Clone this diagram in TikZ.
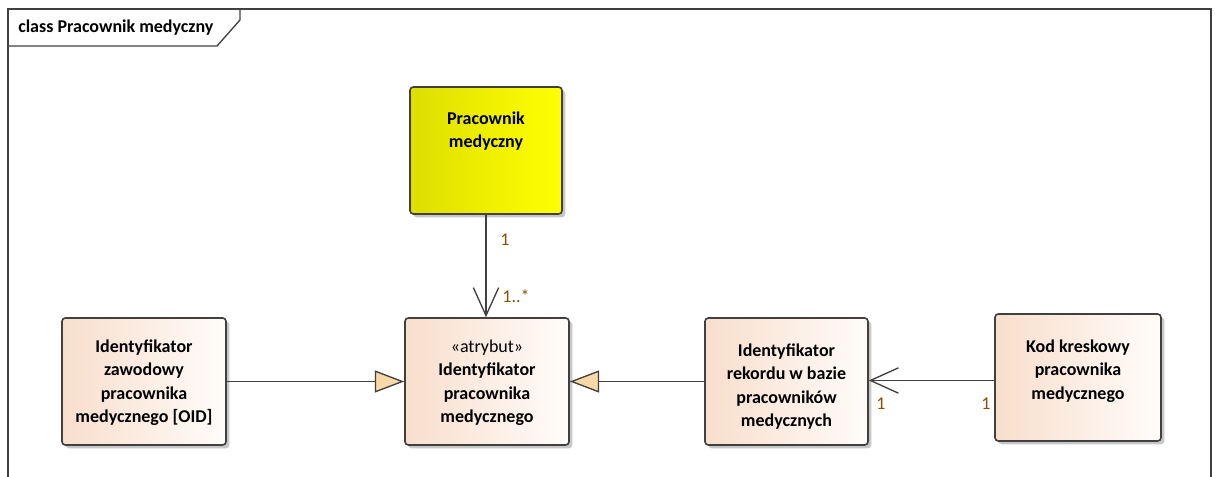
\documentclass[tikz,border=0pt]{standalone}
\usepackage{fontspec}
\setmainfont{Carlito}
\usetikzlibrary{arrows.meta,shadows}
\definecolor{framecol}{RGB}{64,64,64}
\definecolor{peach}{RGB}{248,222,204}
\definecolor{peachlight}{RGB}{255,252,250}
\definecolor{olive}{RGB}{222,222,0}
\definecolor{brightyellow}{RGB}{255,255,0}
\definecolor{tri}{RGB}{247,216,166}
\definecolor{mult}{RGB}{140,80,0}
\tikzset{
  cls/.style={draw=framecol, line width=1.2pt, rounded corners=2.5pt,
    left color=peach, right color=peachlight, inner sep=0pt,
    minimum width=123pt, minimum height=95.25pt,
    drop shadow={shadow xshift=2.5pt, shadow yshift=-2.5pt, opacity=0.22, fill=black}},
  mainclass/.style={cls, left color=olive, right color=brightyellow,
    minimum width=114pt},
  txt/.style={font=\fontsize{13.5}{17.4}\selectfont\bfseries, align=center, inner sep=0pt},
  multlbl/.style={font=\fontsize{13.5}{16}\selectfont, text=mult, inner sep=0pt},
  conn/.style={draw=framecol, line width=1pt},
  assoc/.style={conn, -{Straight Barb[length=21pt, width=19pt, line width=1pt]}},
  gen/.style={conn, -{Triangle[length=22pt, width=16.5pt, fill=tri, line width=1pt]}},
}
\begin{document}
\begin{tikzpicture}[x=0.75pt, y=-0.75pt]
\useasboundingbox (0,0) rectangle (1215,477);

% diagram frame and name tab
\draw[framecol, line width=1pt] (8,477) -- (8,9) -- (1211,9) -- (1211,477);
\draw[framecol, line width=1pt] (8,46) -- (217,46) -- (240,20) -- (240,9);
\node[txt, anchor=west] (title) at (18,28) {class Pracownik medyczny};

% classes
\node[mainclass] (pm) at (486,150.5) {};
\node[txt, anchor=north] (pmtxt) at ([yshift=-19pt]pm.north) {Pracownik\\medyczny};

\node[cls] (attr) at (487,381.5) {};
\node[txt, anchor=north] (attrtxt) at ([yshift=-17pt]attr.north)
  {{\mdseries «atrybut»}\\Identyfikator\\pracownika\\medycznego};

\node[cls] (oid) at (144,381.5) {};
\node[txt, anchor=north] (oidtxt) at ([yshift=-17pt]oid.north)
  {Identyfikator\\zawodowy\\pracownika\\medycznego [OID]};

\node[cls, minimum width=122.25pt] (rek) at (786.5,381.5) {};
\node[txt, anchor=north] (rektxt) at ([yshift=-20pt]rek.north)
  {Identyfikator\\rekordu w bazie\\pracowników\\medycznych};

\node[cls, minimum width=124.5pt] (kod) at (1078,377.5) {};
\node[txt, anchor=north] (kodtxt) at ([yshift=-20pt]kod.north)
  {Kod kreskowy\\pracownika\\medycznego};

% relationships
\draw[assoc] (pm.south) -- (pm.south |- attr.north);
\node[multlbl] (m1) at (505,240) {1};
\node[multlbl] (m2) at (516,296) {1..*};

\draw[gen] (oid.east) -- (attr.west);
\draw[gen] (rek.west) -- (attr.east);

\draw[assoc] ([yshift=-2.25pt]kod.west) -- ([yshift=-2.25pt]kod.west -| rek.east);
\node[multlbl] (m3) at (881,404) {1};
\node[multlbl] (m4) at (986,404) {1};
\end{tikzpicture}
\end{document}
